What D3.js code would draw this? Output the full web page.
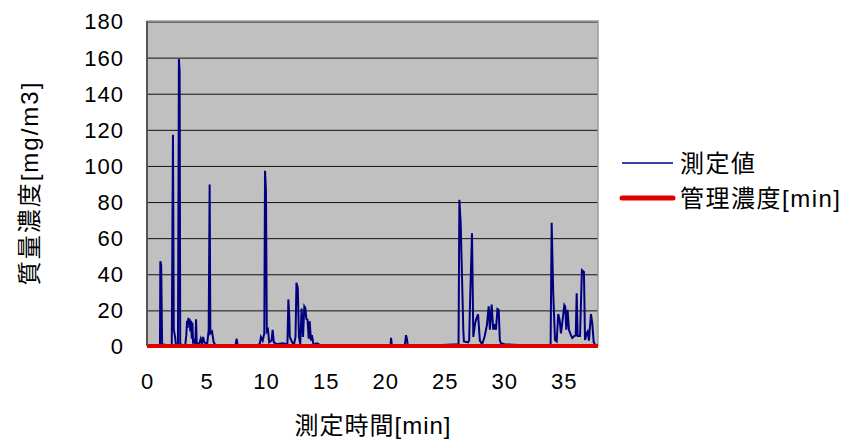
<!DOCTYPE html>
<html>
<head>
<meta charset="utf-8">
<script src="https://cdn.jsdelivr.net/npm/d3@7"></script>
<style>
  body { margin: 0; background: #fff; }
  svg { display: block; }
  text { font-family: "Liberation Sans", "Noto Sans CJK JP", sans-serif; fill: #000; }
</style>
</head>
<body>
<div class="chart"></div>
<script>
const times = [
  0, 0.5, 0.99, 1.09, 1.12, 1.19, 1.27, 1.59, 1.88, 2.08, 2.18, 2.25, 2.36, 2.43,
  2.60, 2.68, 2.74, 2.79, 3.07, 3.22, 3.30, 3.36, 3.41, 3.47, 3.53, 3.58, 3.64, 3.70,
  3.76, 3.81, 3.87, 3.96, 4.06, 4.12, 4.17, 4.34, 4.51, 4.61, 4.71, 4.81, 5.05, 5.18,
  5.26, 5.32, 5.46, 5.60,
  5.75, 6.44, 7.43, 7.53, 7.61, 8.42, 9.22, 9.46, 9.57, 9.71, 9.85, 9.91, 9.99, 10.06,
  10.16, 10.26, 10.46, 10.55, 10.65, 10.9, 11.4, 11.79, 11.87, 11.95, 11.99, 12.06, 12.19,
  12.33, 12.47, 12.55, 12.66, 12.76, 12.87, 12.98, 13.10, 13.21, 13.30, 13.38, 13.48,
  13.58, 13.66, 13.77, 13.85, 13.97, 14.27, 14.57, 15.86, 17.84, 20.37, 20.46, 20.49,
  20.56, 21.65, 21.75, 21.82, 21.90, 23.29, 24.78, 26.16, 26.23, 26.34, 26.56, 26.61,
  26.96, 27.05, 27.12, 27.29, 27.40, 27.55, 27.65, 27.80, 27.95, 28.14, 28.34, 28.54,
  28.69, 28.79, 28.94, 29.07, 29.18, 29.30, 29.43, 29.53, 29.63, 29.73, 30.03, 31.22,
  32.70, 33.89, 33.98, 34.11, 34.26, 34.40, 34.53, 34.65, 34.76, 34.90, 35.04, 35.12,
  35.21, 35.32, 35.43, 35.54, 35.71, 35.88, 36.00, 36.08, 36.16, 36.36, 36.52, 36.69,
  36.78, 36.92, 37.00, 37.11, 37.28, 37.39, 37.51, 37.62
];
const values = [
  0.5, 0.3, 0.5, 0.5, 47, 45, 1, 0.5, 0.3, 1, 117, 9, 5, 0.5,
  0.5, 159, 152, 1, 0.5, 1, 6, 14, 10, 15.6, 12, 15, 8, 14,
  4, 13, 2, 3, 1, 14.8, 2, 0.5, 4, 1, 5, 2, 1, 9,
  89.5, 7, 8, 2,
  0.5, 0.3, 0.5, 4, 0.5, 0.3, 0.5, 1, 5, 3, 7, 97, 86, 8,
  9, 2, 3, 9, 2, 1, 1.5, 1, 25.8, 16, 5, 4, 2,
  0.5, 5, 35, 32, 5, 1, 20.8, 5, 22, 21, 15, 14.5,
  4, 13.7, 3, 6, 1, 1.5, 0.5, 0.3, 0.5, 0.3, 0.5, 4.5,
  0.5, 0.5, 6, 4, 0.5, 0.3, 0.5, 1, 81, 68, 9, 2.5,
  2, 3, 22.7, 62.4, 5, 12.5, 15, 17.5, 3, 1, 5, 11.5,
  22, 9, 23, 9, 12, 9, 20.5, 20, 3, 1.5, 1, 0.5,
  0.3, 0.5, 68.3, 29.2, 3.3, 2.5, 17.7, 14.4, 7, 14.4, 22.7, 21.8,
  9, 20, 9, 7, 4.4, 5.5, 6, 29.2, 5.5, 5.5, 42, 41,
  3.3, 7, 8, 3, 17.7, 12.5, 2, 1
];
// control concentration line
const limitTimes = [0, 37.87];
const limitValues = [0, 0];

const yTicks = [0, 20, 40, 60, 80, 100, 120, 140, 160, 180];
const xTicks = [0, 5, 10, 15, 20, 25, 30, 35];
const seriesNames = ["測定値", "管理濃度[min]"];
const seriesColors = ["#000080", "#e00000"];

const W = 848, H = 439;
const plot = {left: 147, right: 598, top: 21, bottom: 346};

const svg = d3.select(".chart")
    .append("svg")
    .attr("width", W)
    .attr("height", H);

const x = d3.scaleLinear().domain([0, 37.87]).range([plot.left, plot.right]);
const y = d3.scaleLinear().domain([0, 180]).range([plot.bottom, plot.top]);

// plot background
svg.append("rect")
    .attr("x", plot.left).attr("y", plot.top)
    .attr("width", plot.right - plot.left)
    .attr("height", plot.bottom - plot.top)
    .attr("fill", "#c0c0c0");

// horizontal gridlines
svg.append("g")
    .attr("transform", `translate(${plot.left},0)`)
    .call(d3.axisLeft(y).tickValues(yTicks).tickSize(-(plot.right - plot.left)).tickFormat(""))
    .call(g => g.select(".domain").remove())
    .call(g => g.selectAll("line").attr("stroke", "#111").attr("stroke-width", 1)
        .attr("transform", "translate(0,0.5)"));

// measured series
const pts = times.map((t, i) => [t, values[i]]);
const line = d3.line().x(d => x(d[0])).y(d => y(d[1]));
svg.append("path")
    .datum(pts)
    .attr("fill", "none")
    .attr("stroke", seriesColors[0])
    .attr("stroke-width", 2)
    .attr("d", line);

// frame: top/right grey, left axis darker
svg.append("path")
    .attr("d", `M${plot.left},${plot.top}H${plot.right}V${plot.bottom}`)
    .attr("fill", "none")
    .attr("stroke", "#9a9a9a")
    .attr("stroke-width", 1.5);

// control line
svg.append("path")
    .datum(limitTimes.map((t, i) => [t, limitValues[i]]))
    .attr("fill", "none")
    .attr("stroke", seriesColors[1])
    .attr("stroke-width", 4)
    .attr("d", line);

// y axis
const yAxis = svg.append("g")
    .attr("transform", `translate(${plot.left},0)`)
    .call(d3.axisLeft(y).tickValues(yTicks).tickSize(0).tickPadding(23))
    .call(g => g.select(".domain").attr("stroke", "#555").attr("stroke-width", 2)
        .attr("d", `M0,${plot.top}V${plot.bottom}`));
yAxis.selectAll("text")
    .attr("font-size", 22)
    .attr("letter-spacing", "1px")
    .attr("dy", "0.36em")
    .style("font-family", "'Liberation Sans', sans-serif");

// x axis labels (no line, no ticks)
const xAxis = svg.append("g")
    .attr("transform", `translate(0,${plot.bottom})`)
    .call(d3.axisBottom(x).tickValues(xTicks).tickSize(0).tickPadding(27))
    .call(g => g.select(".domain").remove());
xAxis.selectAll("text")
    .attr("font-size", 22)
    .attr("letter-spacing", "1px")
    .style("font-family", "'Liberation Sans', sans-serif");

// axis titles
svg.append("text")
    .attr("x", 373).attr("y", 434)
    .attr("text-anchor", "middle")
    .attr("font-size", 24)
    .attr("letter-spacing", "1px")
    .text("測定時間[min]");

svg.append("text")
    .attr("transform", "translate(38,183) rotate(-90)")
    .attr("text-anchor", "middle")
    .attr("font-size", 24)
    .attr("letter-spacing", "2px")
    .text("質量濃度[mg/m3]");

// legend
const legend = svg.append("g").attr("transform", "translate(622,0)");
const legendY = [163, 198];
seriesNames.forEach((name, i) => {
    legend.append("line")
        .attr("x1", 0).attr("x2", 51)
        .attr("y1", legendY[i]).attr("y2", legendY[i])
        .attr("stroke", seriesColors[i])
        .attr("stroke-width", i === 0 ? 1.5 : 5)
        .attr("stroke-linecap", i === 0 ? "butt" : "round");
    legend.append("text")
        .attr("x", 58).attr("y", legendY[i])
        .attr("dy", "0.36em")
        .attr("font-size", 24)
        .attr("letter-spacing", "1.5px")
        .text(name);
});
</script>
</body>
</html>
